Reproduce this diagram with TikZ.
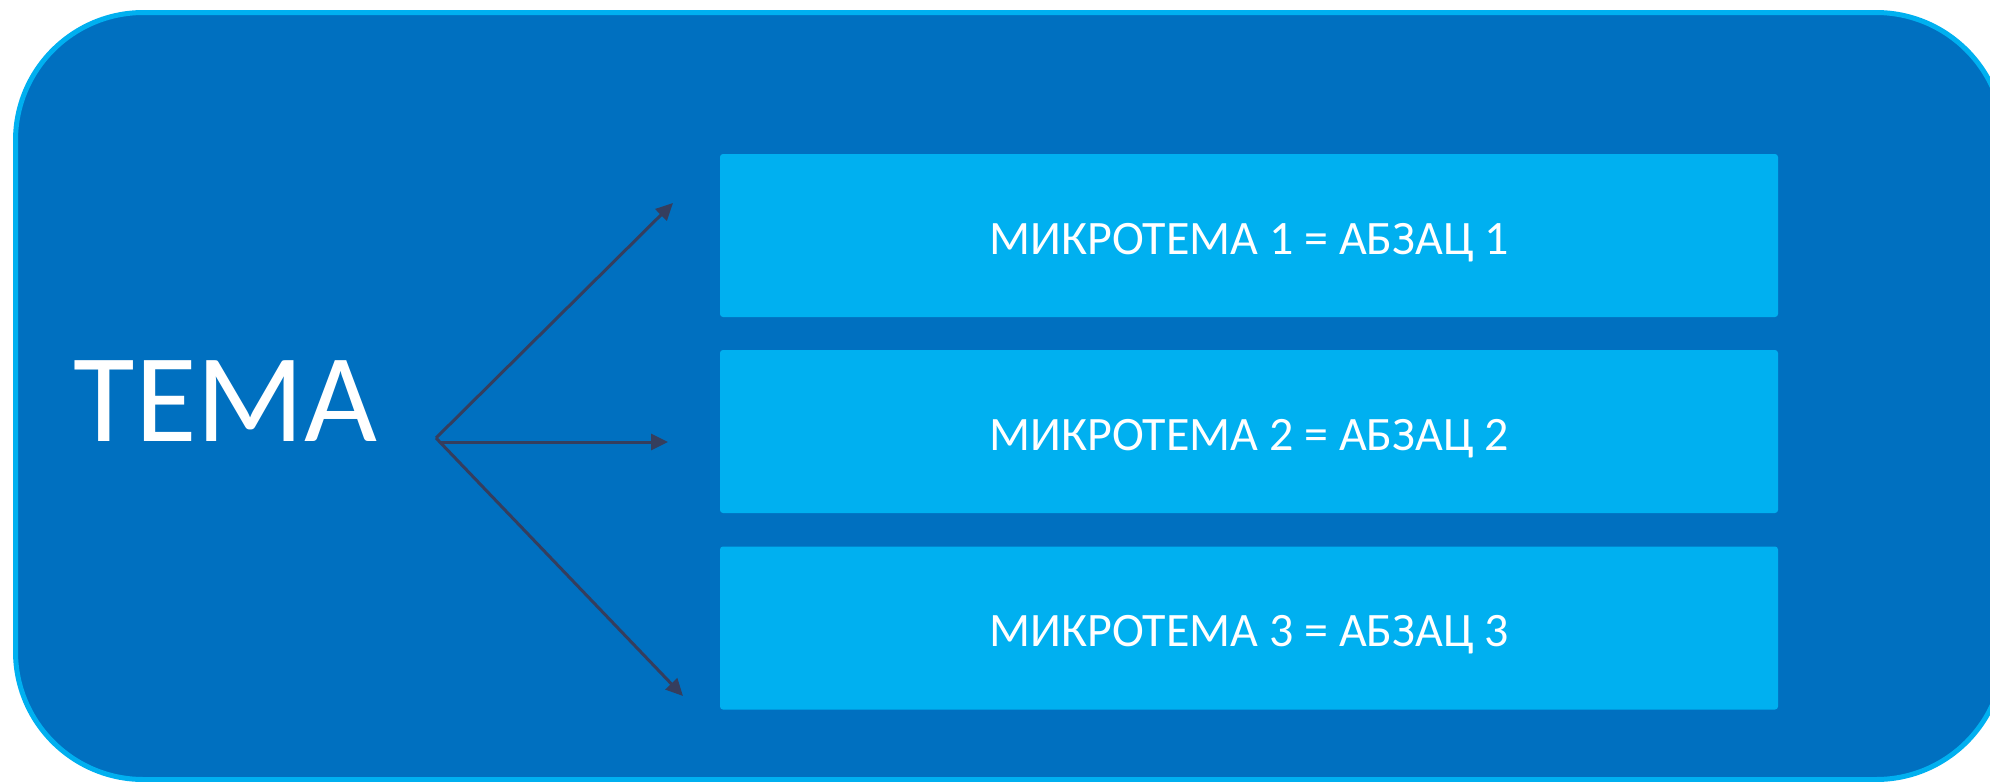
\documentclass[tikz,border=0pt]{standalone}
\usepackage{fontspec}
\setmainfont{Carlito}
\usetikzlibrary{arrows.meta}
\definecolor{outerfill}{HTML}{0070C0}
\definecolor{lightblue}{HTML}{00B0F0}
\definecolor{arrowcol}{HTML}{353E5E}
\tikzset{
  outerbox/.style={fill=outerfill, draw=lightblue, line width=5pt, rounded corners=128pt},
  mbox/.style={fill=lightblue, draw=none, rounded corners=3pt, minimum width=1058pt, minimum height=163pt, inner sep=0pt, text=white, text height=37pt, text depth=0pt, font=\fontsize{48}{56}\selectfont},
  temanode/.style={text=white, inner sep=0pt, font=\fontsize{126}{130}\selectfont},
  conn/.style={draw=arrowcol, line width=3pt, -{Triangle[length=17pt,width=16pt]}}
}
\begin{document}
\begin{tikzpicture}[x=1pt,y=-1pt]
\useasboundingbox (0,0) rectangle (1990,782);
\clip (0,0) rectangle (1990,782);
\path[outerbox] (15.5,12.5) rectangle (2004,779.5);
\node[temanode] (tema) at (225.5,401) {ТЕМА};
\node[mbox] (b1) at (1249,235.5) {МИКРОТЕМА 1 = АБЗАЦ 1};
\node[mbox] (b2) at (1249,431.5) {МИКРОТЕМА 2 = АБЗАЦ 2};
\node[mbox] (b3) at (1249,628) {МИКРОТЕМА 3 = АБЗАЦ 3};
\coordinate (src) at (436,438);
\coordinate (srcm) at (441,442);
\coordinate (e1) at (673,203);
\coordinate (e2) at (668,442);
\coordinate (e3) at (683,696);
\draw[conn] (src) -- (e1);
\draw[conn] (srcm) -- (e2);
\draw[conn] (src) -- (e3);
\end{tikzpicture}
\end{document}
